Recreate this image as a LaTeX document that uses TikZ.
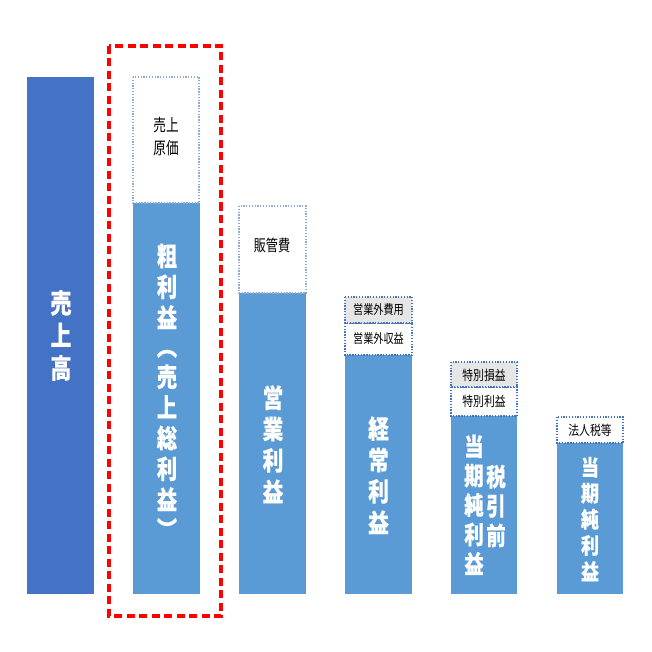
\documentclass[tikz,border=0pt]{standalone}
\usepackage{fontspec}
\usepackage{graphicx}
\setmainfont{Noto Sans CJK JP}[BoldFeatures={FakeBold=0.15}]
\definecolor{colA}{HTML}{4472C4}
\definecolor{colB}{HTML}{5B9BD5}
\definecolor{dotL}{HTML}{8FAADC}
\definecolor{dotD}{HTML}{4472C4}
\definecolor{grayF}{HTML}{E7E6E6}
\newcommand\vstack[4]{{\bfseries\fontsize{#1}{#2}\selectfont\scalebox{#3}[1]{\begin{tabular}{@{}c@{}}#4\end{tabular}}}}
\newcommand\smalltxt[3]{{\fontsize{#1}{#1}\selectfont\scalebox{#2}[1]{#3}}}
\tikzset{
  bar/.style={fill=colB, draw=none},
  barA/.style={fill=colA, draw=none},
  dotbox/.style={draw=#1, line width=1.4pt, dash pattern=on 1.3pt off 1.5pt},
  vlabel/.style={text=white, inner sep=0pt, anchor=center},
  slabel/.style={text=black, inner sep=0pt, anchor=center},
  redbox/.style={draw=red, line width=3.5pt, dash pattern=on 8pt off 4.5pt}
}
\begin{document}
\begin{tikzpicture}[x=1pt,y=-1pt]
\useasboundingbox (0,0) rectangle (652,652);
\fill[white] (0,0) rectangle (652,652);
% columns
\fill[barA] (27,77) rectangle (94,594);
\fill[bar] (133,203) rectangle (200,594);
\fill[bar] (239,293) rectangle (306,594);
\fill[bar] (345,355) rectangle (412,594);
\fill[bar] (451,416) rectangle (517,594);
\fill[bar] (557,443) rectangle (623,594);
% dotted boxes
\draw[dotbox=dotL, fill=white] (133,77) rectangle (199,203);
\draw[dotbox=dotL, fill=white] (239,206) rectangle (306,293);
\draw[dotbox=dotD, fill=white] (345,323) rectangle (412,355);
\draw[dotbox=dotD, fill=grayF] (345,297) rectangle (412,323);
\draw[dotbox=dotD, fill=white] (451,387) rectangle (517,416);
\draw[dotbox=dotD, fill=grayF] (451,362) rectangle (517,387);
\draw[dotbox=dotD, fill=white] (557,417) rectangle (623,443);
% red dashed frame
\draw[redbox] (109,46) rectangle (221,616);
% big labels
\node[vlabel] (t1) at (61,339) {\vstack{27}{32}{0.78}{売\\上\\高}};
\node[vlabel] (t2) at (167,396) {\vstack{26}{28.5}{0.78}{粗\\利\\益\\︵\\売\\上\\総\\利\\益\\︶}};
\node[vlabel] (t3) at (273,448) {\vstack{26}{30.5}{0.8}{営\\業\\利\\益}};
\node[vlabel] (t4) at (378.5,479) {\vstack{26}{30.5}{0.8}{経\\常\\利\\益}};
\node[vlabel] (t5a) at (474,508) {\vstack{25}{27}{0.78}{当\\期\\純\\利\\益}};
\node[vlabel] (t5b) at (496,509) {\vstack{25}{27.5}{0.78}{税\\引\\前}};
\node[vlabel] (t6) at (590,522) {\vstack{22}{24.5}{0.82}{当\\期\\純\\利\\益}};
% small labels
\node[slabel, align=center] (s1) at (166,138) {\fontsize{17}{23}\selectfont\scalebox{0.74}[1]{\begin{tabular}{@{}c@{}}売上\\原価\end{tabular}}};
\node[slabel] (s2) at (272,245) {\smalltxt{16}{0.76}{販管費}};
\node[slabel] (s3) at (378.5,310) {\smalltxt{13}{0.78}{営業外費用}};
\node[slabel] (s4) at (378.5,339) {\smalltxt{13}{0.78}{営業外収益}};
\node[slabel] (s5) at (484,375) {\smalltxt{13.5}{0.8}{特別損益}};
\node[slabel] (s6) at (484,401) {\smalltxt{13.5}{0.8}{特別利益}};
\node[slabel] (s7) at (590,430) {\smalltxt{13.5}{0.8}{法人税等}};
\end{tikzpicture}
\end{document}
